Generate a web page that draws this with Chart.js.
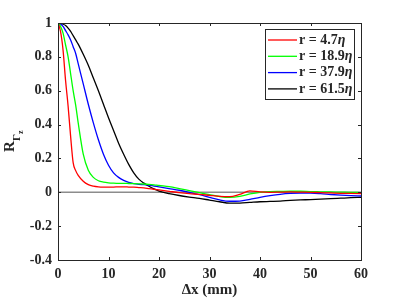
<!DOCTYPE html>
<html lang="en">
<head>
    <meta charset="UTF-8">
    <title>R Gamma z vs dx</title>
    <style>
        body { margin: 0; background: #fff; }
        canvas { display: block; }
    </style>
</head>
<body>
    <canvas id="corr" width="399" height="299"></canvas>
    <script src="https://cdn.jsdelivr.net/npm/chart.js"></script>
    <script>
        // separation dx (mm)
        const dx = [0, 0.5, 1, 1.5, 2, 2.5, 3, 3.5, 4, 5, 6, 7, 8, 9, 10, 11, 12, 13, 14, 15, 16, 17, 18, 19, 20,
            22, 24, 26, 28, 30, 32, 34, 36, 38, 40, 42, 44, 46, 48, 50, 52, 54, 56, 58, 60];
        const r47 = [1, 0.95, 0.84, 0.66, 0.51, 0.33, 0.175, 0.128, 0.1, 0.065, 0.045, 0.036, 0.032, 0.031, 0.031, 0.031, 0.032, 0.032, 0.031, 0.03, 0.028, 0.026, 0.022, 0.018, 0.014,
            0.006, -0.002, -0.008, -0.012, -0.018, -0.024, -0.026, -0.012, 0.008, 0.002, 0, 0.001, 0.002, 0.001, 0, -0.002, -0.004, -0.006, -0.007, -0.008];
        const r189 = [1, 0.98, 0.94, 0.87, 0.8, 0.7, 0.6, 0.515, 0.41, 0.225, 0.13, 0.088, 0.068, 0.06, 0.056, 0.054, 0.053, 0.053, 0.052, 0.051, 0.05, 0.049, 0.047, 0.044, 0.04,
            0.033, 0.022, 0.01, -0.002, -0.014, -0.025, -0.03, -0.024, -0.01, 0, 0.004, 0.005, 0.006, 0.006, 0.004, 0.003, 0.002, 0.001, 0, -0.002];
        const r379 = [1, 0.995, 0.98, 0.955, 0.93, 0.9, 0.86, 0.82, 0.76, 0.64, 0.52, 0.41, 0.31, 0.225, 0.16, 0.115, 0.088, 0.07, 0.058, 0.051, 0.047, 0.045, 0.042, 0.037, 0.032,
            0.022, 0.012, 0, -0.014, -0.03, -0.045, -0.053, -0.052, -0.042, -0.03, -0.02, -0.012, -0.007, -0.005, -0.005, -0.008, -0.013, -0.017, -0.02, -0.022];
        const r615 = [1, 0.998, 0.993, 0.985, 0.97, 0.95, 0.925, 0.9, 0.875, 0.815, 0.75, 0.675, 0.6, 0.52, 0.44, 0.365, 0.29, 0.225, 0.165, 0.115, 0.078, 0.054, 0.036, 0.02, 0.007,
            -0.008, -0.019, -0.028, -0.036, -0.046, -0.056, -0.064, -0.064, -0.06, -0.056, -0.054, -0.052, -0.048, -0.045, -0.043, -0.04, -0.038, -0.035, -0.032, -0.03];
        const zeroLine = [0, 0];
        const zeroX = [0, 60];

        const seriesNames = ['r = 4.7', 'r = 18.9', 'r = 37.9', 'r = 61.5'];
        const seriesColors = ['#ff0000', '#00ff00', '#0000ff', '#000000'];
        const xTicks = ['0', '10', '20', '30', '40', '50', '60'];
        const yTicks = ['-0.4', '-0.2', '0', '0.2', '0.4', '0.6', '0.8', '1'];

        const toPts = (xs, ys) => xs.map((x, i) => ({ x: x, y: ys[i] }));
        const serif = '"Liberation Serif", "Times New Roman", serif';
        const ink = '#262626';

        const allSeries = [r47, r189, r379, r615];
        const datasets = allSeries.map((ys, i) => ({
            label: seriesNames[i],
            data: toPts(dx, ys),
            borderColor: seriesColors[i],
            borderWidth: 1.3,
            pointRadius: 0,
            fill: false,
            cubicInterpolationMode: 'monotone'
        }));
        // last dataset is drawn first, so the zero line sits under the curves
        datasets.push({
            label: 'zero',
            data: toPts(zeroX, zeroLine),
            borderColor: '#8c8c8c',
            borderWidth: 1.5,
            pointRadius: 0
        });

        // frame, inward ticks, axis titles and legend box (MATLAB look)
        const matlabBits = {
            id: 'matlabBits',
            afterDraw(chart) {
                const ctx = chart.ctx;
                const a = chart.chartArea;
                const xs = chart.scales.x, ys = chart.scales.y;
                ctx.save();
                ctx.strokeStyle = ink;
                ctx.lineWidth = 1;
                ctx.strokeRect(a.left + 0.5, a.top + 0.5, a.right - a.left, a.bottom - a.top);
                const t = 3;
                ctx.beginPath();
                xTicks.forEach(v => {
                    const px = Math.round(xs.getPixelForValue(+v)) + 0.5;
                    ctx.moveTo(px, a.bottom); ctx.lineTo(px, a.bottom - t);
                    ctx.moveTo(px, a.top); ctx.lineTo(px, a.top + t);
                });
                yTicks.forEach(v => {
                    const py = Math.round(ys.getPixelForValue(+v)) + 0.5;
                    ctx.moveTo(a.left, py); ctx.lineTo(a.left + t, py);
                    ctx.moveTo(a.right, py); ctx.lineTo(a.right - t, py);
                });
                ctx.stroke();

                // x title
                ctx.fillStyle = ink;
                ctx.font = 'bold 15px ' + serif;
                ctx.textAlign = 'center';
                ctx.textBaseline = 'middle';
                ctx.fillText('\u0394x (mm)', (a.left + a.right) / 2, 290);

                // y title R_Gamma_z, rotated
                ctx.save();
                ctx.translate(14, 152);
                ctx.rotate(-Math.PI / 2);
                ctx.textAlign = 'left';
                ctx.textBaseline = 'alphabetic';
                ctx.font = 'bold 15px ' + serif;
                ctx.fillText('R', 0, 0);
                ctx.font = 'bold 11px ' + serif;
                ctx.fillText('\u0393', 11, 6);
                ctx.font = 'bold 8px ' + serif;
                ctx.fillText('z', 18, 9);
                ctx.restore();

                // legend
                const lx = 265, ly = 29, lw = 89, lh = 70;
                ctx.fillStyle = '#fff';
                ctx.fillRect(lx, ly, lw, lh);
                ctx.strokeStyle = ink;
                ctx.strokeRect(lx + 0.5, ly + 0.5, lw, lh);
                ctx.textAlign = 'left';
                ctx.textBaseline = 'middle';
                seriesNames.forEach((name, i) => {
                    const cy = ly + 11 + i * 16.3;
                    ctx.strokeStyle = seriesColors[i];
                    ctx.lineWidth = 1.3;
                    ctx.beginPath();
                    ctx.moveTo(lx + 3, cy); ctx.lineTo(lx + 32, cy);
                    ctx.stroke();
                    ctx.fillStyle = ink;
                    ctx.font = 'bold 14px ' + serif;
                    ctx.fillText(name, lx + 34, cy);
                    const w = ctx.measureText(name).width;
                    ctx.font = 'italic bold 14px ' + serif;
                    ctx.fillText('\u03b7', lx + 34 + w, cy);
                });
                ctx.restore();
            }
        };

        new Chart(document.getElementById('corr'), {
            type: 'line',
            data: { datasets: datasets },
            options: {
                responsive: false,
                animation: false,
                layout: { padding: { top: 23, right: 38, left: 0, bottom: 0 } },
                plugins: { legend: { display: false }, tooltip: { enabled: false } },
                scales: {
                    x: {
                        type: 'linear',
                        min: 0,
                        max: 60,
                        grid: { display: false, drawTicks: false },
                        border: { display: false },
                        afterFit: s => { s.height = 39; },
                        ticks: {
                            stepSize: 10,
                            padding: 6,
                            color: ink,
                            font: { family: serif, size: 14, weight: 'bold' },
                            callback: (v, i) => xTicks[i]
                        }
                    },
                    y: {
                        min: -0.4,
                        max: 1,
                        grid: { display: false, drawTicks: false },
                        border: { display: false },
                        afterFit: s => { s.width = 58; },
                        ticks: {
                            stepSize: 0.2,
                            padding: 6,
                            color: ink,
                            font: { family: serif, size: 14, weight: 'bold' },
                            callback: (v, i) => yTicks[i]
                        }
                    }
                }
            },
            plugins: [matlabBits]
        });
    </script>
</body>
</html>
